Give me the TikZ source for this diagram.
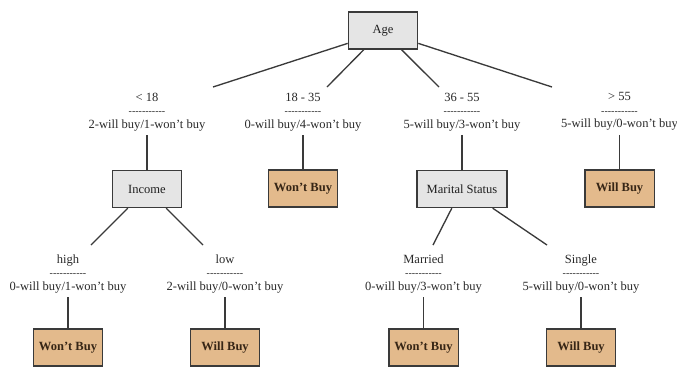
\documentclass[tikz,border=0pt]{standalone}
\usepackage{fontspec}
\setmainfont{Liberation Serif}
\usepackage{xcolor}

\definecolor{boxgray}{RGB}{229,229,229}
\definecolor{boxtan}{RGB}{227,186,140}
\definecolor{edgegray}{RGB}{58,58,58}
\definecolor{leaftext}{RGB}{55,38,22}
\definecolor{labeltext}{RGB}{40,40,40}

% row of small hyphens under each branch value
\newcommand{\dashrow}{{\fontsize{7.5pt}{8pt}\selectfont\mbox{-}\mbox{-}\mbox{-}\mbox{-}\mbox{-}\mbox{-}\mbox{-}\mbox{-}\mbox{-}\mbox{-}\mbox{-}}}

\begin{document}
\begin{tikzpicture}[x=0.75pt, y=-0.75pt,
    every node/.style={font=\fontsize{9.4pt}{10.1pt}\selectfont, text=labeltext},
    test/.style={draw=edgegray, line width=1pt, fill=boxgray, text=black!88,
      minimum width=52pt, minimum height=27.75pt, inner sep=3pt},
    leaf/.style={test, fill=boxtan, text=leaftext, font=\fontsize{9.4pt}{10.1pt}\selectfont\bfseries},
    branch/.style={align=center, inner sep=0pt, anchor=north},
    edge/.style={draw=edgegray, line width=1pt}]
    \useasboundingbox (0,0) rectangle (677,369);

    % We will draw the tree here

    \node[test] (age) at (383,30.5) {Age};

    \node[branch] (lt18) at (147,92.5) {< 18\\ \dashrow\\ 2-will buy/1-won't buy};
    \node[branch] (a1835) at (303,92.5) {18 - 35\\ \dashrow\\ 0-will buy/4-won't buy};
    \node[branch] (a3655) at (462,92.5) {36 - 55\\ \dashrow\\ 5-will buy/3-won't buy};
    \node[branch] (gt55) at (619.5,92.5) {> 55\\ \dashrow\\ 5-will buy/0-won't buy};

    \node[test] (income) at (147,189) {Income};
    \node[leaf] (wont1) at (303,188.5) {Won't Buy};
    \node[test, minimum width=67.5pt] (marital) at (462,189) {Marital Status};
    \node[leaf] (will1) at (619.5,188.5) {Will Buy};

    \node[branch] (high) at (68,254.5) {high\\ \dashrow\\ 0-will buy/1-won't buy};
    \node[branch] (low) at (225,254.5) {low\\ \dashrow\\ 2-will buy/0-won't buy};
    \node[branch] (married) at (423.5,254.5) {Married\\ \dashrow\\ 0-will buy/3-won't buy};
    \node[branch] (single) at (581,254.5) {Single\\ \dashrow\\ 5-will buy/0-won't buy};

    \node[leaf] (wont2) at (68,347.5) {Won't Buy};
    \node[leaf] (will2) at (225,347.5) {Will Buy};
    \node[leaf] (wont3) at (423.5,347.5) {Won't Buy};
    \node[leaf] (will3) at (581,347.5) {Will Buy};

    % free ends of the split lines, just above the branch values
    \coordinate (lt18top) at (213,87);
    \coordinate (a1835top) at (327,87);
    \coordinate (a3655top) at (439,87);
    \coordinate (gt55top) at (552,87);
    \coordinate (hightop) at (91,245);
    \coordinate (lowtop) at (203,245);
    \coordinate (marriedtop) at (433,245);
    \coordinate (singletop) at (547,245);

    \draw[edge] (age.200) -- (lt18top);
    \draw[edge] (age.225) -- (a1835top);
    \draw[edge] (age.314) -- (a3655top);
    \draw[edge] (age.340) -- (gt55top);

    \draw[edge] (income.225) -- (hightop);
    \draw[edge] (income.315) -- (lowtop);
    \draw[edge] (marital.242) -- (marriedtop);
    \draw[edge] (marital.328) -- (singletop);

    \draw[edge, shorten <=3pt] (lt18.south) -- (income.north);
    \draw[edge, shorten <=3pt] (a1835.south) -- (wont1.north);
    \draw[edge, shorten <=3pt] (a3655.south) -- (marital.north);
    \draw[edge, shorten <=3pt] (gt55.south) -- (will1.north);

    \draw[edge, shorten <=3pt] (high.south) -- (wont2.north);
    \draw[edge, shorten <=3pt] (low.south) -- (will2.north);
    \draw[edge, shorten <=3pt] (married.south) -- (wont3.north);
    \draw[edge, shorten <=3pt] (single.south) -- (will3.north);

\end{tikzpicture}
\end{document}
